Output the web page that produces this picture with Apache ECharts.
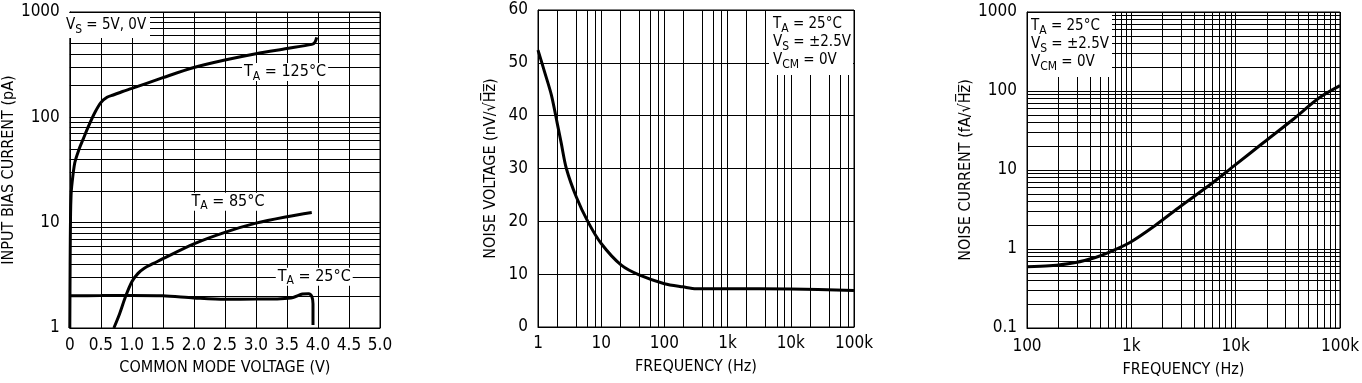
<!DOCTYPE html>
<html><head><meta charset="utf-8">
<script src="https://cdn.jsdelivr.net/npm/echarts@6/dist/echarts.min.js"></script>
<style>html,body{margin:0;padding:0;background:#fff}#c{width:1362px;height:383px}</style>
</head><body><div id="c"></div>
<script>
const FONT = "'Liberation Sans Narrow','Arial Narrow','DejaVu Sans Condensed',sans-serif";

// ---- Chart 1: input bias current vs common mode voltage ----
const biasX125 = [0, 0.005, 0.012, 0.02, 0.03, 0.08, 0.15, 0.21, 0.3, 0.4, 0.5, 0.6, 0.7, 0.85, 1.0, 1.5, 2.0, 2.5, 3.0, 3.5, 3.9, 3.95, 3.98];
const biasY125 = [1, 4, 12, 18, 22, 37, 50, 61, 82, 110, 138, 155, 163, 176, 188, 238, 297, 350, 402, 450, 493, 515, 575];
const biasX85 = [0.71, 0.8, 0.9, 1.0, 1.1, 1.2, 1.35, 1.5, 2.0, 2.5, 3.0, 3.5, 3.9];
const biasY85 = [1, 1.35, 2.0, 2.75, 3.3, 3.7, 4.1, 4.55, 6.3, 8.1, 9.9, 11.4, 12.5];
const biasX25 = [0, 0.5, 1.0, 1.5, 2.0, 2.5, 3.0, 3.4, 3.6, 3.75, 3.85, 3.9, 3.92, 3.92, 3.92];
const biasY25 = [2.02, 2.03, 2.04, 2.02, 1.93, 1.87, 1.88, 1.9, 1.95, 2.1, 2.12, 2.0, 1.7, 1.3, 1.07];
const biasXTicks = ['0', '0.5', '1.0', '1.5', '2.0', '2.5', '3.0', '3.5', '4.0', '4.5', '5.0'];
const biasYTickValues = [1, 10, 100, 1000];
const biasYTickLabels = ['1', '10', '100', '1000'];

// ---- Chart 2: noise voltage vs frequency ----
const nvFreq = [1, 1.27, 1.63, 2.02, 2.34, 2.81, 4.04, 6.18, 10, 20.8, 40.6, 100, 197, 320, 1000, 10000, 100000];
const nvVal = [52.4, 48.3, 43.9, 38.5, 34.7, 30, 24.6, 19.9, 15.8, 11.7, 9.8, 8.2, 7.6, 7.26, 7.26, 7.2, 6.9];
const nvXTickValues = [1, 10, 100, 1000, 10000, 100000];
const nvXTickLabels = ['1', '10', '100', '1k', '10k', '100k'];

// ---- Chart 3: noise current vs frequency ----
const niFreq = [100, 164, 293, 453, 584, 970, 1670, 2990, 5760, 9570, 18400, 35400, 63300, 100000];
const niVal = [0.596, 0.612, 0.675, 0.78, 0.886, 1.21, 1.96, 3.51, 6.59, 11.2, 22.1, 43.6, 82, 117];
const niXTickValues = [100, 1000, 10000, 100000];
const niXTickLabels = ['100', '1k', '10k', '100k'];
const niYTickValues = [0.1, 1, 10, 100, 1000];
const niYTickLabels = ['0.1', '1', '10', '100', '1000'];

// minor log gridline multipliers
const minorAll = [2, 3, 4, 5, 6, 7, 8, 9];
const minorEven = [2, 4, 6, 8];

function minorLines(firstDecade, lastDecade, mults) {
  const out = [];
  for (let d = firstDecade; d < lastDecade; d++) {
    mults.forEach(m => out.push(m * Math.pow(10, d)));
  }
  return out;
}
function logFmt(values, labels) {
  return function (v) {
    for (let i = 0; i < values.length; i++) {
      if (Math.abs(Math.log10(v) - Math.log10(values[i])) < 1e-6) return labels[i];
    }
    return '';
  };
}
function zip(a, b) { return a.map((x, i) => [x, b[i]]); }

const richLabel = {
  t: { fontSize: 16, lineHeight: 18, fontFamily: FONT, color: '#000' },
  s: { fontSize: 12, lineHeight: 9, padding: [9, 0, 0, 0], fontFamily: FONT, color: '#000' }
};
const richBox = {
  t: { fontSize: 15, lineHeight: 18, fontFamily: FONT, color: '#000' },
  s: { fontSize: 12, lineHeight: 9, padding: [9, 0, 0, 0], fontFamily: FONT, color: '#000' }
};

const gridLine = { show: true, lineStyle: { color: '#000', width: 1, type: 'solid' } };
const axisLine = { show: true, lineStyle: { color: '#000', width: 1 } };
const labelStyle = { color: '#000', fontSize: 17, fontFamily: FONT };
const nameStyle = { color: '#000', fontSize: 16, fontFamily: FONT };

function gridSeries(xi, yi, lines, dir) {
  return {
    type: 'line', xAxisIndex: xi, yAxisIndex: yi, z: 1, silent: true,
    data: [], showSymbol: false,
    markLine: {
      silent: true, animation: false, symbol: ['none', 'none'],
      label: { show: false },
      lineStyle: { color: '#000', width: 1, type: 'solid', opacity: 1 },
      emphasis: { disabled: true },
      data: lines.map(v => (dir === 'y' ? { yAxis: v } : { xAxis: v }))
    }
  };
}
function curve(xi, yi, data, marks) {
  const s = {
    type: 'line', xAxisIndex: xi, yAxisIndex: yi, z: 5, data: data,
    showSymbol: false, symbol: 'none', smooth: 0.3, silent: true,
    lineStyle: { color: '#000', width: 3 }
  };
  if (marks) {
    s.markPoint = {
      silent: true, animation: false, symbol: 'rect', symbolSize: 0,
      data: marks.map(m => ({
        coord: m.coord,
        label: {
          show: true, position: 'inside', formatter: m.text, rich: richLabel,
          backgroundColor: '#fff', padding: [0, 2, 0, 2]
        }
      }))
    };
  }
  return s;
}
function boxText(x, y, text) {
  return { type: 'text', z: 51, x: x, y: y, style: { text: text, rich: richBox, fill: '#000', fontSize: 15, fontFamily: FONT, verticalAlign: 'top', align: 'left' } };
}

const chart = echarts.init(document.getElementById('c'), null, { renderer: 'canvas' });
const option = {
  animation: false,
  backgroundColor: '#fff',
  textStyle: { fontFamily: FONT },
  grid: [
    { left: 63, top: 12, width: 317, height: 316, show: true, borderColor: '#000', borderWidth: 1, backgroundColor: 'transparent' },
    { left: 538, top: 10, width: 316, height: 317, show: true, borderColor: '#000', borderWidth: 1, backgroundColor: 'transparent' },
    { left: 1027, top: 12, width: 317, height: 317, show: true, borderColor: '#000', borderWidth: 1, backgroundColor: 'transparent' }
  ],
  xAxis: [
    {
      gridIndex: 0, type: 'value', min: 0, max: 5, interval: 0.5,
      axisLine: axisLine, axisTick: { show: false }, splitLine: gridLine,
      axisLabel: { ...labelStyle, margin: 9, formatter: (v) => biasXTicks[Math.round(v * 2)] },
      name: 'COMMON MODE VOLTAGE (V)', nameLocation: 'middle', nameGap: 32, nameTextStyle: nameStyle
    },
    {
      gridIndex: 1, type: 'log', logBase: 10, min: 1, max: 100000, splitNumber: 5,
      axisLine: axisLine, axisTick: { show: false }, splitLine: gridLine,
      axisLabel: { ...labelStyle, margin: 8, formatter: logFmt(nvXTickValues, nvXTickLabels) },
      name: 'FREQUENCY (Hz)', nameLocation: 'middle', nameGap: 32, nameTextStyle: nameStyle
    },
    {
      gridIndex: 2, type: 'log', logBase: 10, min: 100, max: 100000, splitNumber: 3,
      axisLine: axisLine, axisTick: { show: false }, splitLine: gridLine,
      axisLabel: { ...labelStyle, margin: 10, formatter: logFmt(niXTickValues, niXTickLabels) },
      name: 'FREQUENCY (Hz)', nameLocation: 'middle', nameGap: 34, nameTextStyle: nameStyle
    }
  ],
  yAxis: [
    {
      gridIndex: 0, type: 'log', logBase: 10, min: 1, max: 1000, splitNumber: 3,
      axisLine: axisLine, axisTick: { show: false }, splitLine: gridLine,
      axisLabel: { ...labelStyle, margin: 10, formatter: logFmt(biasYTickValues, biasYTickLabels) },
      name: 'INPUT BIAS CURRENT (pA)', nameLocation: 'middle', nameRotate: 90, nameGap: 45, nameTextStyle: nameStyle
    },
    {
      gridIndex: 1, type: 'value', min: 0, max: 60, interval: 10,
      axisLine: axisLine, axisTick: { show: false }, splitLine: gridLine,
      axisLabel: { ...labelStyle, margin: 10 },
      name: 'NOISE VOLTAGE (nV/\u221AH\u0305z\u0305)', nameLocation: 'middle', nameRotate: 90, nameGap: 39, nameTextStyle: nameStyle
    },
    {
      gridIndex: 2, type: 'log', logBase: 10, min: 0.1, max: 1000, splitNumber: 4,
      axisLine: axisLine, axisTick: { show: false }, splitLine: gridLine,
      axisLabel: { ...labelStyle, margin: 10, formatter: logFmt(niYTickValues, niYTickLabels) },
      name: 'NOISE CURRENT (fA/\u221AH\u0305z\u0305)', nameLocation: 'middle', nameRotate: 90, nameGap: 47, nameTextStyle: nameStyle
    }
  ],
  series: [
    gridSeries(0, 0, minorLines(0, 3, minorAll), 'y'),
    curve(0, 0, zip(biasX125, biasY125), [{ coord: [3.47, 270], text: '{t|T}{s|A}{t| = 125°C}' }]),
    curve(0, 0, zip(biasX85, biasY85), [{ coord: [2.55, 15.8], text: '{t|T}{s|A}{t| = 85°C}' }]),
    curve(0, 0, zip(biasX25, biasY25), [{ coord: [3.94, 3.07], text: '{t|T}{s|A}{t| = 25°C}' }]),

    gridSeries(1, 1, minorLines(0, 5, minorEven), 'x'),
    curve(1, 1, zip(nvFreq, nvVal)),

    gridSeries(2, 2, minorLines(2, 5, minorAll), 'x'),
    gridSeries(2, 2, minorLines(-1, 3, minorAll), 'y'),
    curve(2, 2, zip(niFreq, niVal))
  ],
  graphic: [
    { type: 'rect', z: 50, shape: { x: 64, y: 13, width: 86, height: 25 }, style: { fill: '#fff' } },
    boxText(66, 16, '{t|V}{s|S}{t| = 5V, 0V}'),

    { type: 'rect', z: 50, shape: { x: 769, y: 11, width: 84, height: 64 }, style: { fill: '#fff' } },
    boxText(773, 15, '{t|T}{s|A}{t| = 25°C}\n{t|V}{s|S}{t| = ±2.5V}\n{t|V}{s|CM}{t| = 0V}'),

    { type: 'rect', z: 50, shape: { x: 1028, y: 13, width: 84, height: 64 }, style: { fill: '#fff' } },
    boxText(1031, 17, '{t|T}{s|A}{t| = 25°C}\n{t|V}{s|S}{t| = ±2.5V}\n{t|V}{s|CM}{t| = 0V}')
  ]
};
chart.setOption(option);
</script>
</body></html>
